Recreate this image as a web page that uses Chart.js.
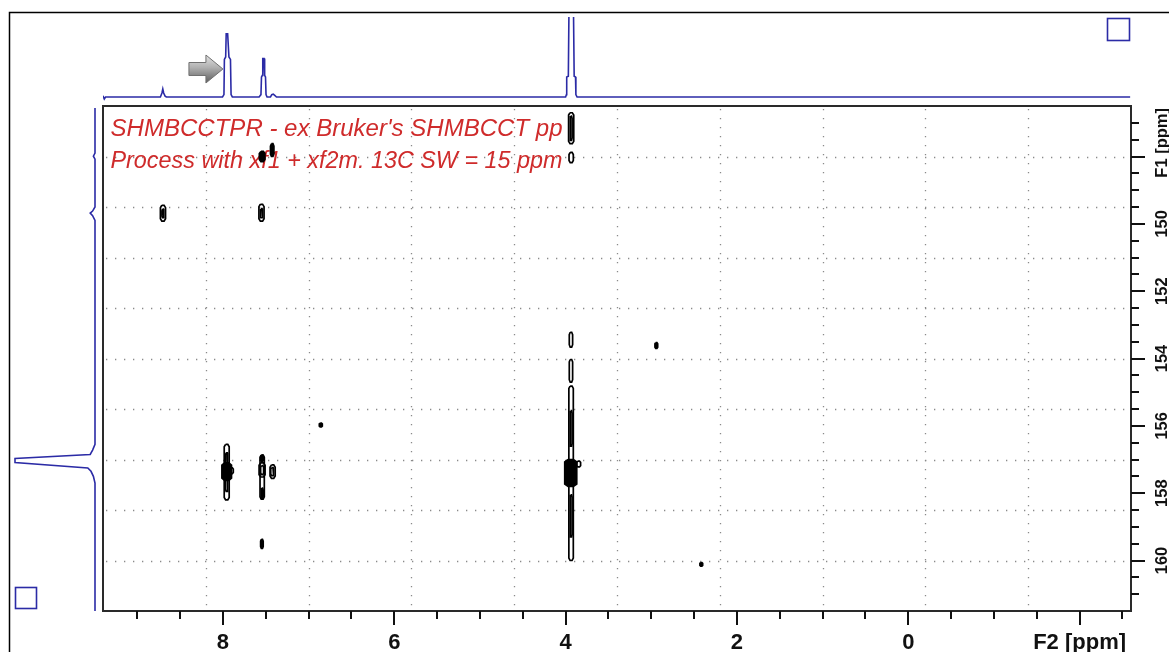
<!DOCTYPE html>
<html>
<head>
<meta charset="utf-8">
<script src="https://cdn.jsdelivr.net/npm/chart.js@4.4.1/dist/chart.umd.min.js"></script>
<style>
  html, body { margin: 0; padding: 0; background: #fff; overflow: hidden; }
  #wrap { position: relative; width: 1169px; height: 652px; }
  canvas { position: absolute; }
  #plot2d { left: 0; top: 0; }
  #projF2 { left: 103px; top: 17px; }
  #projF1 { left: 10px; top: 106px; }
</style>
</head>
<body>
<div id="wrap">
  <canvas id="plot2d" width="1169" height="652"></canvas>
  <canvas id="projF1" width="93" height="505"></canvas>
  <canvas id="projF2" width="1028" height="89"></canvas>
</div>
<script>
// ---- spectral windows (ppm) ----
const f2Window = [9.4, -2.6];      // 1H, left -> right
const f1Window = [146.5, 161.5];   // 13C, top -> bottom

// ---- axis ticks ----
const f2TickValues = [8, 6, 4, 2, 0, -2];
const f2TickLabels = ['8', '6', '4', '2', '0', 'F2 [ppm]'];
const f2MinorTicks = [9, -2.5, 0.5];          // from, to, step
const f1TickValues = [148, 150, 152, 154, 156, 158, 160];
const f1TickLabels = ['F1 [ppm]', '150', '152', '154', '156', '158', '160'];
const f1MinorTicks = [147, 161, 0.5];

// ---- annotation text ----
const noteLines = [
  "SHMBCCTPR - ex Bruker's SHMBCCT pp",
  "Process with xf1 + xf2m. 13C SW = 15 ppm"
];

// ---- 1H projection (F2 ppm, intensity) ----
const protonShift = [
  9.40, 9.385, 9.37,
  8.73, 8.712, 8.702, 8.692, 8.675, 8.66,
  8.005, 7.988, 7.983, 7.968, 7.962, 7.945, 7.930, 7.912, 7.905, 7.890,
  7.578, 7.556, 7.550, 7.540, 7.535, 7.520, 7.513, 7.503, 7.497, 7.485,
  7.445, 7.430, 7.413, 7.395, 7.375,
  4.000, 3.990, 3.987, 3.968, 3.958, 3.911, 3.900, 3.884, 3.880, 3.866,
  -2.59
];
const protonIntensity = [
  1.5, -2.5, 0,
  0, 5, 10, 5, 1, 0,
  0, 3, 47, 50, 79, 79, 50, 47, 3, 0,
  0, 3, 25, 27, 48, 48, 27, 25, 3, 0,
  0, 3, 3.5, 2, 0,
  0, 3, 25, 26, 140, 140, 26, 25, 3, 0,
  0
];

// ---- 13C projection (F1 ppm, intensity) ----
const carbonShift = [
  146.56, 147.90, 147.99, 148.08,
  149.50, 149.62, 149.68, 149.76, 149.90,
  156.55, 156.72, 156.85, 156.97, 157.09, 157.25, 157.35, 157.50, 157.70,
  161.50
];
const carbonIntensity = [
  0, 0, 2, 0,
  0, 3, 6, 3, 0,
  0, 3, 6, 100, 100, 9, 5, 2, 0,
  0
];

// ---- 2D contours: [F2 left, F2 right, F1 top, F1 bottom] in ppm ----
const contourOutlines = [
  [8.730, 8.670, 149.45, 149.92],
  [8.712, 8.688, 149.56, 149.82],
  [7.580, 7.520, 149.42, 149.92],
  [7.565, 7.535, 149.55, 149.82],
  [3.965, 3.905, 146.70, 147.62],
  [3.948, 3.924, 146.80, 147.52],
  [3.960, 3.910, 147.88, 148.18],
  [3.957, 3.918, 153.22, 153.66],
  [3.957, 3.918, 154.03, 154.70],
  [3.962, 3.910, 154.82, 160.00],
  [3.948, 3.924, 155.55, 156.60],
  [3.948, 3.924, 158.05, 159.30],
  [3.870, 3.825, 157.05, 157.22],
  [7.985, 7.927, 156.55, 158.20],
  [7.970, 7.942, 156.80, 157.95],
  [7.917, 7.879, 157.25, 157.42],
  [7.567, 7.517, 156.87, 158.18],
  [7.578, 7.508, 157.10, 157.52],
  [7.560, 7.525, 157.18, 157.45],
  [7.450, 7.390, 157.16, 157.56],
  [7.442, 7.405, 157.24, 157.48]
];
const contourFilled = [
  [7.445, 7.405, 147.62, 148.00],
  [7.575, 7.510, 147.85, 148.15],
  [4.010, 3.870, 157.00, 157.80],
  [8.012, 7.900, 157.10, 157.62],
  [7.560, 7.525, 156.87, 157.05],
  [7.555, 7.530, 157.85, 158.15],
  [7.560, 7.530, 159.37, 159.64],
  [6.875, 6.840, 155.92, 156.03],
  [2.957, 2.925, 153.53, 153.70],
  [2.432, 2.400, 160.06, 160.17]
];

const BLUE = '#2b2ba6';
const INK = '#111';
const LABEL_FONT = '"Liberation Sans", Arial, Helvetica, sans-serif';

// closed outline of one contour level with slightly clipped corners
function contourRing(box) {
  const [xl, xr, yt, yb] = box;
  const cx = (xl - xr) * 0.28;
  const cy = Math.min((yb - yt) * 0.2, 0.07);
  return [
    {x: xl - cx, y: yt}, {x: xr + cx, y: yt}, {x: xr, y: yt + cy}, {x: xr, y: yb - cy},
    {x: xr + cx, y: yb}, {x: xl - cx, y: yb}, {x: xl, y: yb - cy}, {x: xl, y: yt + cy},
    {x: xl - cx, y: yt}
  ];
}

function contourDataset(box, filled) {
  return {
    data: contourRing(box),
    borderColor: '#000',
    backgroundColor: '#000',
    borderWidth: 1.7,
    pointRadius: 0,
    tension: 0,
    fill: filled ? 'shape' : false
  };
}

const contourSets = [
  ...contourOutlines.map(b => contourDataset(b, false)),
  ...contourFilled.map(b => contourDataset(b, true))
];

function stepList(spec) {
  const [from, to, step] = spec;
  const out = [];
  const n = Math.round(Math.abs(to - from) / step);
  const dir = to >= from ? 1 : -1;
  for (let i = 0; i <= n; i++) out.push(+(from + dir * i * step).toFixed(3));
  return out;
}

// draws a line of text stretched to a given width
function fitText(c, text, x, y, width) {
  const w = c.measureText(text).width;
  c.save();
  c.translate(x, y);
  c.scale(width / w, 1);
  c.fillText(text, 0, 0);
  c.restore();
}

// frame, grid, note text, axes and labels of the 2D plot
const plotFrame = {
  id: 'plotFrame',
  beforeDraw(chart) {
    const c = chart.ctx;
    c.save();
    c.fillStyle = '#fff';
    c.fillRect(0, 0, chart.width, chart.height);
    c.strokeStyle = '#000';
    c.lineWidth = 1.5;
    c.beginPath();
    c.moveTo(9.5, chart.height);
    c.lineTo(9.5, 12.5);
    c.lineTo(chart.width, 12.5);
    c.stroke();
    c.strokeStyle = BLUE;
    c.lineWidth = 1.6;
    c.strokeRect(1107.5, 18.5, 22, 22);
    c.strokeRect(15.5, 587.5, 21, 21);
    c.restore();
  },
  beforeDatasetsDraw(chart) {
    const c = chart.ctx, a = chart.chartArea;
    c.save();
    c.strokeStyle = '#8a8a8a';
    c.lineWidth = 1.3;
    c.setLineDash([1.3, 7.7]);
    for (let i = 1; i < 10; i++) {
      const x = Math.round(a.left + (a.right - a.left) * i / 10) + 0.5;
      c.beginPath(); c.moveTo(x, a.top + 3); c.lineTo(x, a.bottom); c.stroke();
      const y = Math.round(a.top + (a.bottom - a.top) * i / 10) + 0.5;
      c.beginPath(); c.moveTo(a.left + 3, y); c.lineTo(a.right, y); c.stroke();
    }
    c.setLineDash([]);
    c.fillStyle = '#cf2b2b';
    c.font = 'italic 23.5px ' + LABEL_FONT;
    c.textBaseline = 'alphabetic';
    c.textAlign = 'left';
    fitText(c, noteLines[0], a.left + 7.5, a.top + 30, 452);
    fitText(c, noteLines[1], a.left + 7.5, a.top + 62, 452);
    c.restore();
  },
  afterDatasetsDraw(chart) {
    const c = chart.ctx, a = chart.chartArea;
    const xs = chart.scales.x, ys = chart.scales.y;
    c.save();
    c.strokeStyle = '#2a2a2a';
    c.lineWidth = 2;
    c.strokeRect(a.left, a.top, a.right - a.left, a.bottom - a.top);

    c.strokeStyle = INK;
    c.lineWidth = 2;
    stepList(f2MinorTicks).forEach(v => {
      const major = f2TickValues.includes(v);
      const px = Math.round(xs.getPixelForValue(v));
      c.beginPath(); c.moveTo(px, a.bottom); c.lineTo(px, a.bottom + (major ? 14 : 8)); c.stroke();
    });
    stepList(f1MinorTicks).forEach(v => {
      const major = f1TickValues.includes(v);
      const py = Math.round(ys.getPixelForValue(v));
      c.beginPath(); c.moveTo(a.right, py); c.lineTo(a.right + (major ? 14 : 8), py); c.stroke();
    });

    c.fillStyle = INK;
    c.font = 'bold 22px ' + LABEL_FONT;
    c.textAlign = 'center';
    c.textBaseline = 'alphabetic';
    f2TickValues.forEach((v, i) => {
      c.fillText(f2TickLabels[i], xs.getPixelForValue(v), a.bottom + 38);
    });

    c.font = 'bold 16.5px ' + LABEL_FONT;
    f1TickValues.forEach((v, i) => {
      const py = ys.getPixelForValue(v);
      const isTitle = isNaN(parseFloat(f1TickLabels[i]));
      c.save();
      c.translate(a.right + 36, isTitle ? a.top + 2 : py);
      c.rotate(-Math.PI / 2);
      c.textAlign = isTitle ? 'right' : 'center';
      c.fillText(f1TickLabels[i], 0, 0);
      c.restore();
    });
    c.restore();
  }
};

new Chart(document.getElementById('plot2d'), {
  type: 'line',
  data: { datasets: contourSets },
  options: {
    responsive: false,
    animation: false,
    devicePixelRatio: 1,
    events: [],
    layout: { padding: { left: 103, top: 106, right: 38, bottom: 41 } },
    plugins: { legend: { display: false }, tooltip: { enabled: false } },
    scales: {
      x: { type: 'linear', reverse: true, min: f2Window[1], max: f2Window[0], display: false },
      y: { type: 'linear', reverse: true, min: f1Window[0], max: f1Window[1], display: false }
    }
  },
  plugins: [plotFrame]
});

// pointer arrow beside the 1H projection
const pointer = {
  id: 'pointer',
  afterDatasetsDraw(chart) {
    const c = chart.ctx;
    const tx = chart.scales.x.getPixelForValue(8.0);
    const ty = chart.scales.y.getPixelForValue(35);
    c.save();
    const g = c.createLinearGradient(0, ty - 14, 0, ty + 14);
    g.addColorStop(0, '#e2e2e2');
    g.addColorStop(0.45, '#b0b0b0');
    g.addColorStop(1, '#5e5e5e');
    c.fillStyle = g;
    c.strokeStyle = '#707070';
    c.lineWidth = 1;
    c.beginPath();
    c.moveTo(tx, ty);
    c.lineTo(tx - 17, ty - 14);
    c.lineTo(tx - 17, ty - 6.5);
    c.lineTo(tx - 34, ty - 6.5);
    c.lineTo(tx - 34, ty + 6.5);
    c.lineTo(tx - 17, ty + 6.5);
    c.lineTo(tx - 17, ty + 14);
    c.closePath();
    c.fill();
    c.stroke();
    c.restore();
  }
};

new Chart(document.getElementById('projF2'), {
  type: 'line',
  data: {
    datasets: [{
      data: protonShift.map((x, i) => ({ x, y: protonIntensity[i] })),
      borderColor: BLUE, borderWidth: 1.6, pointRadius: 0, tension: 0, fill: false
    }]
  },
  options: {
    responsive: false, animation: false, devicePixelRatio: 1, events: [],
    layout: { padding: 0 },
    plugins: { legend: { display: false }, tooltip: { enabled: false } },
    scales: {
      x: { type: 'linear', reverse: true, min: f2Window[1], max: f2Window[0], display: false },
      y: { type: 'linear', min: -11.25, max: 100, display: false }
    }
  },
  plugins: [pointer]
});

new Chart(document.getElementById('projF1'), {
  type: 'line',
  data: {
    datasets: [{
      data: carbonShift.map((y, i) => ({ x: carbonIntensity[i], y })),
      borderColor: BLUE, borderWidth: 1.6, pointRadius: 0, tension: 0, fill: false
    }]
  },
  options: {
    responsive: false, animation: false, devicePixelRatio: 1, events: [],
    layout: { padding: 0 },
    plugins: { legend: { display: false }, tooltip: { enabled: false } },
    scales: {
      x: { type: 'linear', reverse: true, min: -10, max: 106.25, display: false },
      y: { type: 'linear', reverse: true, min: f1Window[0], max: f1Window[1], display: false }
    }
  }
});
</script>
</body>
</html>
